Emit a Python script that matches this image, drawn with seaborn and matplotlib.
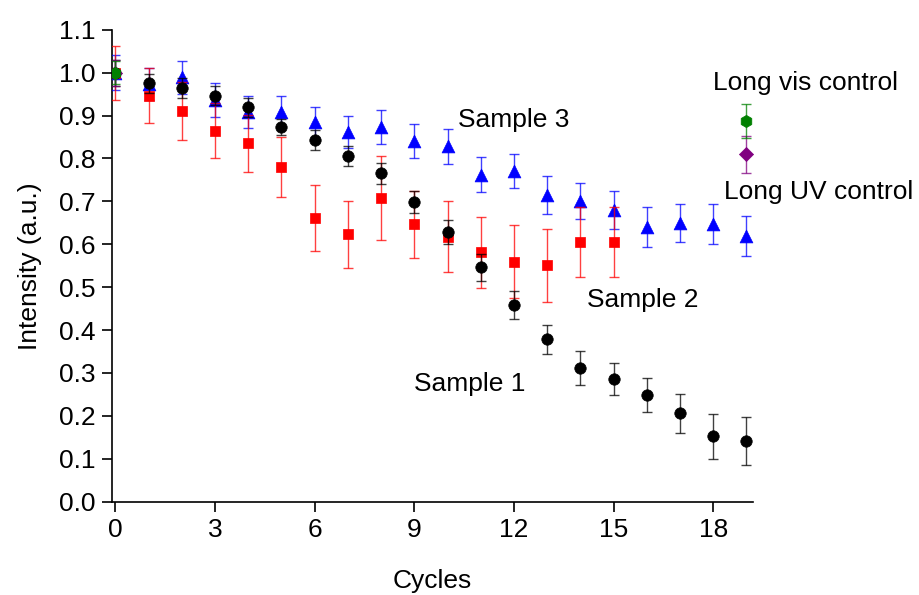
import numpy as np
import matplotlib
matplotlib.use("Agg")
import matplotlib.pyplot as plt
import seaborn as sns

# ── Data ────────────────────────────────────────────────────────────────────
cycles = list(range(20))

sample1 = [1.000, 0.975, 0.964, 0.946, 0.919, 0.874, 0.843, 0.806, 0.765, 0.698,
           0.629, 0.546, 0.459, 0.379, 0.312, 0.286, 0.248, 0.206, 0.152, 0.141]
sample1_err = [0.030, 0.023, 0.024, 0.022, 0.023, 0.019, 0.024, 0.024, 0.024, 0.026,
               0.028, 0.031, 0.032, 0.034, 0.039, 0.037, 0.040, 0.045, 0.052, 0.056]

cycles2 = list(range(16))
sample2 = [1.000, 0.946, 0.911, 0.865, 0.835, 0.781, 0.661, 0.623, 0.707, 0.647,
           0.618, 0.581, 0.559, 0.551, 0.605, 0.605]
sample2_err = [0.063, 0.064, 0.067, 0.065, 0.067, 0.070, 0.077, 0.079, 0.098, 0.078,
               0.083, 0.082, 0.085, 0.085, 0.081, 0.081]

sample3 = [1.000, 0.974, 0.989, 0.936, 0.908, 0.909, 0.884, 0.862, 0.873, 0.841,
           0.828, 0.762, 0.771, 0.715, 0.701, 0.680, 0.641, 0.650, 0.647, 0.620]
sample3_err = [0.040, 0.038, 0.038, 0.039, 0.038, 0.037, 0.037, 0.038, 0.039, 0.040,
               0.040, 0.041, 0.040, 0.045, 0.042, 0.045, 0.047, 0.044, 0.046, 0.047]

vis_x = [0, 19]
vis_y = [1.000, 0.887]
vis_err = [0.027, 0.040]

uv_x = [0, 19]
uv_y = [1.000, 0.810]
uv_err = [0.030, 0.043]

# ── Style ───────────────────────────────────────────────────────────────────
sns.set_theme(style="ticks")
plt.rcParams["font.family"] = ["Liberation Sans", "DejaVu Sans"]
plt.rcParams.update({
    "axes.linewidth": 1.2,
    "axes.edgecolor": "black",
    "axes.labelcolor": "black",
    "text.color": "black",
    "xtick.color": "black",
    "ytick.color": "black",
})

fig = plt.figure(figsize=(9.2, 5.95), dpi=100)
ax = fig.add_axes([0.1217, 0.1568, 0.6968, 0.7932])

# (x, y, err, colour, marker, size, zorder)
series = [
    (cycles, sample3, sample3_err, "#0000ff", "^", 85, 3),
    (cycles2, sample2, sample2_err, "#ff0000", "s", 52, 4),
    (cycles, sample1, sample1_err, "#000000", "o", 68, 5),
    (uv_x, uv_y, uv_err, "#800080", "D", 52, 6),
    (vis_x, vis_y, vis_err, "#008000", "h", 78, 7),
]

for x, y, err, col, mk, size, z in series:
    ax.errorbar(x, y, yerr=err, fmt="none", ecolor=col, elinewidth=1.0,
                capsize=3.8, capthick=1.0, alpha=0.75, zorder=z)
    sns.scatterplot(x=x, y=y, marker=mk, color=col, s=size, edgecolor=col,
                    linewidth=0.5, ax=ax, zorder=z + 0.5, legend=False)

# ── Labels ──────────────────────────────────────────────────────────────────
fs = 19
ax.text(10.32, 0.890, "Sample 3", fontsize=fs, va="center", ha="left")
ax.text(14.2, 0.470, "Sample 2", fontsize=fs, va="center", ha="left")
ax.text(8.99, 0.274, "Sample 1", fontsize=fs, va="center", ha="left")
ax.text(18.0, 0.976, "Long vis control", fontsize=fs, va="center", ha="left")
ax.text(18.33, 0.722, "Long UV control", fontsize=fs, va="center", ha="left")

ax.set_xlim(-0.105, 19.2)
ax.set_ylim(0, 1.1)
ax.set_xticks(range(0, 19, 3))
ax.set_yticks(np.arange(0, 1.11, 0.1))
ax.yaxis.set_major_formatter(matplotlib.ticker.FormatStrFormatter("%.1f"))
ax.tick_params(labelsize=fs, length=7, width=1.2, pad=5)

ax.set_xlabel("Cycles", fontsize=fs, labelpad=19)
ax.set_ylabel("Intensity (a.u.)", fontsize=fs, labelpad=12)

sns.despine(ax=ax)

fig.savefig("out.png", dpi=100)
